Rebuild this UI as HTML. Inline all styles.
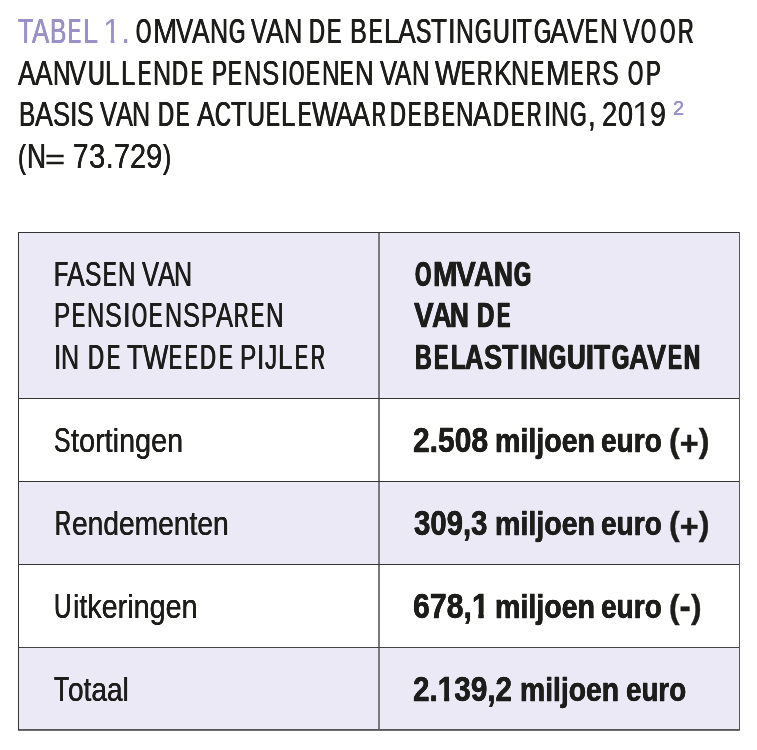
<!DOCTYPE html>
<html lang="nl"><head><meta charset="utf-8"><title>Tabel 1</title>
<style>
html,body{margin:0;padding:0;background:#fff}
body{width:757px;height:750px;position:relative;overflow:hidden;font-family:"Liberation Sans",sans-serif;color:#1d1d1b}
.l{position:absolute;white-space:nowrap;transform-origin:0 0;font-size:34.6px;line-height:34.6px;font-weight:400}
.b{font-weight:700;-webkit-text-stroke:0.4px currentColor}
.c{font-size:34.6px}
.p{color:#9b90c8}
.q,.qb,.pl{position:relative}
.q{font-size:33px;top:-0.4px}
.qb{font-size:32.3px;top:-0.6px}
.pl{font-size:32.5px;top:2.7px}
.o,.ob{display:inline-block}
.o{clip-path:polygon(0 0,100% 0,100% 74%,63.5% 74%,63.5% 100%,43% 100%,43% 74%,0 74%)}
.ob{clip-path:polygon(0 0,100% 0,100% 71%,68.5% 71%,68.5% 100%,40% 100%,40% 71%,0 71%)}
.bg{position:absolute;left:19px;width:720px;background:#ebe9f6}
.hl{position:absolute;left:18px;width:722px;height:1px;background:#333}
.vl{position:absolute;top:232px;height:498px}
#t1a0{left:18.45px;top:14.20px;transform:scaleX(0.7266);text-shadow:0.41px 0 0 currentColor,-0.41px 0 0 currentColor}
#t1a1{left:31.73px;top:14.20px;transform:scaleX(0.7483);text-shadow:0.35px 0 0 currentColor,-0.35px 0 0 currentColor}
#t1a2{left:49.64px;top:14.20px;transform:scaleX(0.7101);text-shadow:0.46px 0 0 currentColor,-0.46px 0 0 currentColor}
#t1a3{left:68.29px;top:14.20px;transform:scaleX(0.5648);text-shadow:1.00px 0 0 currentColor,-1.00px 0 0 currentColor}
#t1a4{left:82.81px;top:14.20px;transform:scaleX(0.7799);text-shadow:0.27px 0 0 currentColor,-0.27px 0 0 currentColor}
#t1b0{left:102.74px;top:14.20px;transform:scaleX(0.9285);text-shadow:none}
#t1b1{left:122.31px;top:14.20px;transform:scaleX(0.7660);text-shadow:0.30px 0 0 currentColor,-0.30px 0 0 currentColor}
#t1c0{left:136.22px;top:14.20px;transform:scaleX(0.5673);text-shadow:1.00px 0 0 currentColor,-1.00px 0 0 currentColor}
#t1c1{left:152.82px;top:14.20px;transform:scaleX(0.8485);text-shadow:0.11px 0 0 currentColor,-0.11px 0 0 currentColor}
#t1c2{left:175.98px;top:14.20px;transform:scaleX(0.7427);text-shadow:0.36px 0 0 currentColor,-0.36px 0 0 currentColor}
#t1c3{left:192.01px;top:14.20px;transform:scaleX(0.7635);text-shadow:0.31px 0 0 currentColor,-0.31px 0 0 currentColor}
#t1c4{left:210.28px;top:14.20px;transform:scaleX(0.7251);text-shadow:0.41px 0 0 currentColor,-0.41px 0 0 currentColor}
#t1c5{left:229.19px;top:14.20px;transform:scaleX(0.6079);text-shadow:0.82px 0 0 currentColor,-0.82px 0 0 currentColor}
#t1d0{left:250.73px;top:14.20px;transform:scaleX(0.7027);text-shadow:0.48px 0 0 currentColor,-0.48px 0 0 currentColor}
#t1d1{left:266.25px;top:14.20px;transform:scaleX(0.7662);text-shadow:0.30px 0 0 currentColor,-0.30px 0 0 currentColor}
#t1d2{left:284.20px;top:14.20px;transform:scaleX(0.7324);text-shadow:0.39px 0 0 currentColor,-0.39px 0 0 currentColor}
#t1e0{left:308.89px;top:14.20px;transform:scaleX(0.6343);text-shadow:0.71px 0 0 currentColor,-0.71px 0 0 currentColor}
#t1e1{left:327.38px;top:14.20px;transform:scaleX(0.6218);text-shadow:0.76px 0 0 currentColor,-0.76px 0 0 currentColor}
#t1f0{left:350.13px;top:14.20px;transform:scaleX(0.7304);text-shadow:0.40px 0 0 currentColor,-0.40px 0 0 currentColor}
#t1f1{left:369.25px;top:14.20px;transform:scaleX(0.5824);text-shadow:0.93px 0 0 currentColor,-0.93px 0 0 currentColor}
#t1f2{left:383.90px;top:14.20px;transform:scaleX(0.7722);text-shadow:0.29px 0 0 currentColor,-0.29px 0 0 currentColor}
#t1f3{left:398.03px;top:14.20px;transform:scaleX(0.7699);text-shadow:0.29px 0 0 currentColor,-0.29px 0 0 currentColor}
#t1f4{left:416.36px;top:14.20px;transform:scaleX(0.6626);text-shadow:0.61px 0 0 currentColor,-0.61px 0 0 currentColor}
#t1f5{left:430.86px;top:14.20px;transform:scaleX(0.7548);text-shadow:0.33px 0 0 currentColor,-0.33px 0 0 currentColor}
#t1f6{left:448.45px;top:14.20px;transform:scaleX(0.7966);text-shadow:0.23px 0 0 currentColor,-0.23px 0 0 currentColor}
#t1f7{left:455.74px;top:14.20px;transform:scaleX(0.7145);text-shadow:0.45px 0 0 currentColor,-0.45px 0 0 currentColor}
#t1f8{left:474.93px;top:14.20px;transform:scaleX(0.6185);text-shadow:0.77px 0 0 currentColor,-0.77px 0 0 currentColor}
#t1f9{left:493.02px;top:14.20px;transform:scaleX(0.6689);text-shadow:0.59px 0 0 currentColor,-0.59px 0 0 currentColor}
#t1f10{left:510.52px;top:14.20px;transform:scaleX(0.7516);text-shadow:0.34px 0 0 currentColor,-0.34px 0 0 currentColor}
#t1f11{left:516.53px;top:14.20px;transform:scaleX(0.7039);text-shadow:0.48px 0 0 currentColor,-0.48px 0 0 currentColor}
#t1f12{left:534.28px;top:14.20px;transform:scaleX(0.6425);text-shadow:0.68px 0 0 currentColor,-0.68px 0 0 currentColor}
#t1f13{left:550.01px;top:14.20px;transform:scaleX(0.7826);text-shadow:0.26px 0 0 currentColor,-0.26px 0 0 currentColor}
#t1f14{left:566.74px;top:14.20px;transform:scaleX(0.7510);text-shadow:0.34px 0 0 currentColor,-0.34px 0 0 currentColor}
#t1f15{left:584.63px;top:14.20px;transform:scaleX(0.5614);text-shadow:1.00px 0 0 currentColor,-1.00px 0 0 currentColor}
#t1f16{left:599.74px;top:14.20px;transform:scaleX(0.7145);text-shadow:0.45px 0 0 currentColor,-0.45px 0 0 currentColor}
#t1g0{left:623.48px;top:14.20px;transform:scaleX(0.7280);text-shadow:0.41px 0 0 currentColor,-0.41px 0 0 currentColor}
#t1g1{left:641.42px;top:14.20px;transform:scaleX(0.5609);text-shadow:1.00px 0 0 currentColor,-1.00px 0 0 currentColor}
#t1g2{left:660.03px;top:14.20px;transform:scaleX(0.5700);text-shadow:0.98px 0 0 currentColor,-0.98px 0 0 currentColor}
#t1g3{left:678.00px;top:14.20px;transform:scaleX(0.6274);text-shadow:0.74px 0 0 currentColor,-0.74px 0 0 currentColor}
#t2a0{left:18.01px;top:56.20px;transform:scaleX(0.7635);text-shadow:0.31px 0 0 currentColor,-0.31px 0 0 currentColor}
#t2a1{left:35.03px;top:56.20px;transform:scaleX(0.7584);text-shadow:0.32px 0 0 currentColor,-0.32px 0 0 currentColor}
#t2a2{left:52.56px;top:56.20px;transform:scaleX(0.7029);text-shadow:0.48px 0 0 currentColor,-0.48px 0 0 currentColor}
#t2a3{left:69.48px;top:56.20px;transform:scaleX(0.7439);text-shadow:0.36px 0 0 currentColor,-0.36px 0 0 currentColor}
#t2a4{left:87.89px;top:56.20px;transform:scaleX(0.6738);text-shadow:0.57px 0 0 currentColor,-0.57px 0 0 currentColor}
#t2a5{left:105.30px;top:56.20px;transform:scaleX(0.7437);text-shadow:0.36px 0 0 currentColor,-0.36px 0 0 currentColor}
#t2a6{left:121.30px;top:56.20px;transform:scaleX(0.7437);text-shadow:0.36px 0 0 currentColor,-0.36px 0 0 currentColor}
#t2a7{left:138.42px;top:56.20px;transform:scaleX(0.5710);text-shadow:0.98px 0 0 currentColor,-0.98px 0 0 currentColor}
#t2a8{left:153.28px;top:56.20px;transform:scaleX(0.7251);text-shadow:0.41px 0 0 currentColor,-0.41px 0 0 currentColor}
#t2a9{left:172.04px;top:56.20px;transform:scaleX(0.6382);text-shadow:0.70px 0 0 currentColor,-0.70px 0 0 currentColor}
#t2a10{left:191.12px;top:56.20px;transform:scaleX(0.5179);text-shadow:1.00px 0 0 currentColor,-1.00px 0 0 currentColor}
#t2b0{left:211.64px;top:56.20px;transform:scaleX(0.6478);text-shadow:0.66px 0 0 currentColor,-0.66px 0 0 currentColor}
#t2b1{left:228.12px;top:56.20px;transform:scaleX(0.5927);text-shadow:0.88px 0 0 currentColor,-0.88px 0 0 currentColor}
#t2b2{left:243.66px;top:56.20px;transform:scaleX(0.6906);text-shadow:0.52px 0 0 currentColor,-0.52px 0 0 currentColor}
#t2b3{left:261.51px;top:56.20px;transform:scaleX(0.7458);text-shadow:0.36px 0 0 currentColor,-0.36px 0 0 currentColor}
#t2b4{left:280.94px;top:56.20px;transform:scaleX(0.7663);text-shadow:0.30px 0 0 currentColor,-0.30px 0 0 currentColor}
#t2b5{left:288.96px;top:56.20px;transform:scaleX(0.5709);text-shadow:0.98px 0 0 currentColor,-0.98px 0 0 currentColor}
#t2b6{left:306.34px;top:56.20px;transform:scaleX(0.6030);text-shadow:0.84px 0 0 currentColor,-0.84px 0 0 currentColor}
#t2b7{left:321.56px;top:56.20px;transform:scaleX(0.7029);text-shadow:0.48px 0 0 currentColor,-0.48px 0 0 currentColor}
#t2b8{left:340.10px;top:56.20px;transform:scaleX(0.5793);text-shadow:0.94px 0 0 currentColor,-0.94px 0 0 currentColor}
#t2b9{left:354.92px;top:56.20px;transform:scaleX(0.7479);text-shadow:0.35px 0 0 currentColor,-0.35px 0 0 currentColor}
#t2c0{left:379.73px;top:56.20px;transform:scaleX(0.7405);text-shadow:0.37px 0 0 currentColor,-0.37px 0 0 currentColor}
#t2c1{left:395.03px;top:56.20px;transform:scaleX(0.7049);text-shadow:0.47px 0 0 currentColor,-0.47px 0 0 currentColor}
#t2c2{left:411.56px;top:56.20px;transform:scaleX(0.7029);text-shadow:0.48px 0 0 currentColor,-0.48px 0 0 currentColor}
#t2d0{left:434.81px;top:56.20px;transform:scaleX(0.7949);text-shadow:0.23px 0 0 currentColor,-0.23px 0 0 currentColor}
#t2d1{left:461.49px;top:56.20px;transform:scaleX(0.6087);text-shadow:0.81px 0 0 currentColor,-0.81px 0 0 currentColor}
#t2d2{left:477.16px;top:56.20px;transform:scaleX(0.6227);text-shadow:0.76px 0 0 currentColor,-0.76px 0 0 currentColor}
#t2d3{left:493.70px;top:56.20px;transform:scaleX(0.7726);text-shadow:0.29px 0 0 currentColor,-0.29px 0 0 currentColor}
#t2d4{left:511.27px;top:56.20px;transform:scaleX(0.7251);text-shadow:0.41px 0 0 currentColor,-0.41px 0 0 currentColor}
#t2d5{left:531.29px;top:56.20px;transform:scaleX(0.5574);text-shadow:1.00px 0 0 currentColor,-1.00px 0 0 currentColor}
#t2d6{left:546.36px;top:56.20px;transform:scaleX(0.8205);text-shadow:0.17px 0 0 currentColor,-0.17px 0 0 currentColor}
#t2d7{left:571.40px;top:56.20px;transform:scaleX(0.5270);text-shadow:1.00px 0 0 currentColor,-1.00px 0 0 currentColor}
#t2d8{left:586.06px;top:56.20px;transform:scaleX(0.5922);text-shadow:0.88px 0 0 currentColor,-0.88px 0 0 currentColor}
#t2d9{left:602.26px;top:56.20px;transform:scaleX(0.7239);text-shadow:0.42px 0 0 currentColor,-0.42px 0 0 currentColor}
#t2e0{left:627.69px;top:56.20px;transform:scaleX(0.5638);text-shadow:1.00px 0 0 currentColor,-1.00px 0 0 currentColor}
#t2e1{left:646.09px;top:56.20px;transform:scaleX(0.6426);text-shadow:0.68px 0 0 currentColor,-0.68px 0 0 currentColor}
#t3a0{left:18.62px;top:97.20px;transform:scaleX(0.7084);text-shadow:0.46px 0 0 currentColor,-0.46px 0 0 currentColor}
#t3a1{left:35.01px;top:97.20px;transform:scaleX(0.7826);text-shadow:0.26px 0 0 currentColor,-0.26px 0 0 currentColor}
#t3a2{left:52.62px;top:97.20px;transform:scaleX(0.7394);text-shadow:0.37px 0 0 currentColor,-0.37px 0 0 currentColor}
#t3a3{left:69.67px;top:97.20px;transform:scaleX(0.7854);text-shadow:0.25px 0 0 currentColor,-0.25px 0 0 currentColor}
#t3a4{left:76.75px;top:97.20px;transform:scaleX(0.7235);text-shadow:0.42px 0 0 currentColor,-0.42px 0 0 currentColor}
#t3b0{left:99.73px;top:97.20px;transform:scaleX(0.7372);text-shadow:0.38px 0 0 currentColor,-0.38px 0 0 currentColor}
#t3b1{left:116.03px;top:97.20px;transform:scaleX(0.7302);text-shadow:0.40px 0 0 currentColor,-0.40px 0 0 currentColor}
#t3b2{left:132.28px;top:97.20px;transform:scaleX(0.7251);text-shadow:0.41px 0 0 currentColor,-0.41px 0 0 currentColor}
#t3c0{left:157.53px;top:97.20px;transform:scaleX(0.6429);text-shadow:0.68px 0 0 currentColor,-0.68px 0 0 currentColor}
#t3c1{left:176.10px;top:97.20px;transform:scaleX(0.5793);text-shadow:0.94px 0 0 currentColor,-0.94px 0 0 currentColor}
#t3d0{left:197.02px;top:97.20px;transform:scaleX(0.7741);text-shadow:0.28px 0 0 currentColor,-0.28px 0 0 currentColor}
#t3d1{left:215.16px;top:97.20px;transform:scaleX(0.6373);text-shadow:0.70px 0 0 currentColor,-0.70px 0 0 currentColor}
#t3d2{left:230.95px;top:97.20px;transform:scaleX(0.7329);text-shadow:0.39px 0 0 currentColor,-0.39px 0 0 currentColor}
#t3d3{left:247.09px;top:97.20px;transform:scaleX(0.7260);text-shadow:0.41px 0 0 currentColor,-0.41px 0 0 currentColor}
#t3d4{left:266.00px;top:97.20px;transform:scaleX(0.5981);text-shadow:0.86px 0 0 currentColor,-0.86px 0 0 currentColor}
#t3d5{left:280.92px;top:97.20px;transform:scaleX(0.7483);text-shadow:0.35px 0 0 currentColor,-0.35px 0 0 currentColor}
#t3d6{left:297.94px;top:97.20px;transform:scaleX(0.5805);text-shadow:0.93px 0 0 currentColor,-0.93px 0 0 currentColor}
#t3d7{left:312.07px;top:97.20px;transform:scaleX(0.7938);text-shadow:0.23px 0 0 currentColor,-0.23px 0 0 currentColor}
#t3d8{left:336.02px;top:97.20px;transform:scaleX(0.7422);text-shadow:0.37px 0 0 currentColor,-0.37px 0 0 currentColor}
#t3d9{left:352.01px;top:97.20px;transform:scaleX(0.7722);text-shadow:0.29px 0 0 currentColor,-0.29px 0 0 currentColor}
#t3d10{left:371.69px;top:97.20px;transform:scaleX(0.5579);text-shadow:1.00px 0 0 currentColor,-1.00px 0 0 currentColor}
#t3d11{left:390.14px;top:97.20px;transform:scaleX(0.6338);text-shadow:0.72px 0 0 currentColor,-0.72px 0 0 currentColor}
#t3d12{left:408.38px;top:97.20px;transform:scaleX(0.5793);text-shadow:0.94px 0 0 currentColor,-0.94px 0 0 currentColor}
#t3d13{left:423.26px;top:97.20px;transform:scaleX(0.7290);text-shadow:0.40px 0 0 currentColor,-0.40px 0 0 currentColor}
#t3d14{left:441.58px;top:97.20px;transform:scaleX(0.5488);text-shadow:1.00px 0 0 currentColor,-1.00px 0 0 currentColor}
#t3d15{left:456.32px;top:97.20px;transform:scaleX(0.6998);text-shadow:0.49px 0 0 currentColor,-0.49px 0 0 currentColor}
#t3d16{left:473.01px;top:97.20px;transform:scaleX(0.7923);text-shadow:0.24px 0 0 currentColor,-0.24px 0 0 currentColor}
#t3d17{left:492.91px;top:97.20px;transform:scaleX(0.6341);text-shadow:0.71px 0 0 currentColor,-0.71px 0 0 currentColor}
#t3d18{left:511.38px;top:97.20px;transform:scaleX(0.5793);text-shadow:0.94px 0 0 currentColor,-0.94px 0 0 currentColor}
#t3d19{left:527.15px;top:97.20px;transform:scaleX(0.5811);text-shadow:0.93px 0 0 currentColor,-0.93px 0 0 currentColor}
#t3d20{left:543.94px;top:97.20px;transform:scaleX(0.7663);text-shadow:0.30px 0 0 currentColor,-0.30px 0 0 currentColor}
#t3d21{left:551.39px;top:97.20px;transform:scaleX(0.7194);text-shadow:0.43px 0 0 currentColor,-0.43px 0 0 currentColor}
#t3d22{left:569.64px;top:97.20px;transform:scaleX(0.6185);text-shadow:0.77px 0 0 currentColor,-0.77px 0 0 currentColor}
#t3d23{left:587.62px;top:97.20px;transform:scaleX(0.8028);text-shadow:0.21px 0 0 currentColor,-0.21px 0 0 currentColor}
#t3e0{left:602.21px;top:97.20px;transform:scaleX(0.7893);text-shadow:0.24px 0 0 currentColor,-0.24px 0 0 currentColor}
#t3e1{left:618.20px;top:97.20px;transform:scaleX(0.7797);text-shadow:0.27px 0 0 currentColor,-0.27px 0 0 currentColor}
#t3e2{left:632.10px;top:97.20px;transform:scaleX(0.9931);text-shadow:none}
#t3e3{left:650.15px;top:97.20px;transform:scaleX(0.8324);text-shadow:0.15px 0 0 currentColor,-0.15px 0 0 currentColor}
#t3f0{left:673.35px;top:91.20px;transform:scaleX(0.9822);font-size:20.30px;text-shadow:0.30px 0 0 currentColor,-0.30px 0 0 currentColor}
#t4a0{left:17.61px;top:139.20px;transform:scaleX(0.7238);text-shadow:0.42px 0 0 currentColor,-0.42px 0 0 currentColor}
#t4a1{left:27.28px;top:139.20px;transform:scaleX(0.7604);text-shadow:0.32px 0 0 currentColor,-0.32px 0 0 currentColor}
#t4a2{left:44.54px;top:142.90px;transform:scaleX(1.2876);font-size:26.80px;text-shadow:none;-webkit-text-stroke:0.3px currentColor}
#t4b0{left:73.09px;top:139.20px;transform:scaleX(0.8016);text-shadow:0.21px 0 0 currentColor,-0.21px 0 0 currentColor}
#t4b1{left:89.11px;top:139.20px;transform:scaleX(0.8496);text-shadow:0.11px 0 0 currentColor,-0.11px 0 0 currentColor}
#t4b2{left:105.92px;top:139.20px;transform:scaleX(0.7776);text-shadow:0.27px 0 0 currentColor,-0.27px 0 0 currentColor}
#t4b3{left:113.56px;top:139.20px;transform:scaleX(0.8306);text-shadow:0.15px 0 0 currentColor,-0.15px 0 0 currentColor}
#t4b4{left:129.64px;top:139.20px;transform:scaleX(0.8338);text-shadow:0.14px 0 0 currentColor,-0.14px 0 0 currentColor}
#t4b5{left:146.37px;top:139.20px;transform:scaleX(0.8457);text-shadow:0.12px 0 0 currentColor,-0.12px 0 0 currentColor}
#t4b6{left:163.00px;top:139.20px;transform:scaleX(0.7443);text-shadow:0.36px 0 0 currentColor,-0.36px 0 0 currentColor}
#h1a0{left:54.34px;top:257.20px;transform:scaleX(0.6708);text-shadow:0.58px 0 0 currentColor,-0.58px 0 0 currentColor}
#h1a1{left:67.28px;top:257.20px;transform:scaleX(0.7594);text-shadow:0.32px 0 0 currentColor,-0.32px 0 0 currentColor}
#h1a2{left:84.97px;top:257.20px;transform:scaleX(0.7124);text-shadow:0.45px 0 0 currentColor,-0.45px 0 0 currentColor}
#h1a3{left:103.24px;top:257.20px;transform:scaleX(0.5870);text-shadow:0.91px 0 0 currentColor,-0.91px 0 0 currentColor}
#h1a4{left:118.27px;top:257.20px;transform:scaleX(0.6963);text-shadow:0.50px 0 0 currentColor,-0.50px 0 0 currentColor}
#h1b0{left:141.74px;top:257.20px;transform:scaleX(0.7405);text-shadow:0.37px 0 0 currentColor,-0.37px 0 0 currentColor}
#h1b1{left:158.01px;top:257.20px;transform:scaleX(0.7421);text-shadow:0.37px 0 0 currentColor,-0.37px 0 0 currentColor}
#h1b2{left:174.29px;top:257.20px;transform:scaleX(0.7251);text-shadow:0.41px 0 0 currentColor,-0.41px 0 0 currentColor}
#h2a0{left:54.01px;top:298.20px;transform:scaleX(0.7027);text-shadow:0.48px 0 0 currentColor,-0.48px 0 0 currentColor}
#h2a1{left:72.30px;top:298.20px;transform:scaleX(0.5631);text-shadow:1.00px 0 0 currentColor,-1.00px 0 0 currentColor}
#h2a2{left:87.17px;top:298.20px;transform:scaleX(0.6891);text-shadow:0.52px 0 0 currentColor,-0.52px 0 0 currentColor}
#h2a3{left:104.75px;top:298.20px;transform:scaleX(0.7280);text-shadow:0.41px 0 0 currentColor,-0.41px 0 0 currentColor}
#h2a4{left:123.47px;top:298.20px;transform:scaleX(0.7966);text-shadow:0.23px 0 0 currentColor,-0.23px 0 0 currentColor}
#h2a5{left:131.73px;top:298.20px;transform:scaleX(0.5581);text-shadow:1.00px 0 0 currentColor,-1.00px 0 0 currentColor}
#h2a6{left:149.19px;top:298.20px;transform:scaleX(0.5743);text-shadow:0.96px 0 0 currentColor,-0.96px 0 0 currentColor}
#h2a7{left:164.67px;top:298.20px;transform:scaleX(0.6835);text-shadow:0.54px 0 0 currentColor,-0.54px 0 0 currentColor}
#h2a8{left:182.50px;top:298.20px;transform:scaleX(0.7341);text-shadow:0.39px 0 0 currentColor,-0.39px 0 0 currentColor}
#h2a9{left:201.02px;top:298.20px;transform:scaleX(0.6974);text-shadow:0.50px 0 0 currentColor,-0.50px 0 0 currentColor}
#h2a10{left:215.51px;top:298.20px;transform:scaleX(0.7392);text-shadow:0.37px 0 0 currentColor,-0.37px 0 0 currentColor}
#h2a11{left:234.17px;top:298.20px;transform:scaleX(0.5797);text-shadow:0.94px 0 0 currentColor,-0.94px 0 0 currentColor}
#h2a12{left:250.70px;top:298.20px;transform:scaleX(0.5670);text-shadow:1.00px 0 0 currentColor,-1.00px 0 0 currentColor}
#h2a13{left:266.15px;top:298.20px;transform:scaleX(0.7048);text-shadow:0.47px 0 0 currentColor,-0.47px 0 0 currentColor}
#h3a0{left:53.70px;top:340.20px;transform:scaleX(0.7663);text-shadow:0.30px 0 0 currentColor,-0.30px 0 0 currentColor}
#h3a1{left:61.03px;top:340.20px;transform:scaleX(0.7251);text-shadow:0.41px 0 0 currentColor,-0.41px 0 0 currentColor}
#h3b0{left:87.53px;top:340.20px;transform:scaleX(0.6429);text-shadow:0.68px 0 0 currentColor,-0.68px 0 0 currentColor}
#h3b1{left:106.70px;top:340.20px;transform:scaleX(0.5670);text-shadow:1.00px 0 0 currentColor,-1.00px 0 0 currentColor}
#h3c0{left:127.02px;top:340.20px;transform:scaleX(0.7491);text-shadow:0.35px 0 0 currentColor,-0.35px 0 0 currentColor}
#h3c1{left:142.81px;top:340.20px;transform:scaleX(0.7754);text-shadow:0.28px 0 0 currentColor,-0.28px 0 0 currentColor}
#h3c2{left:168.75px;top:340.20px;transform:scaleX(0.5570);text-shadow:1.00px 0 0 currentColor,-1.00px 0 0 currentColor}
#h3c3{left:184.87px;top:340.20px;transform:scaleX(0.5488);text-shadow:1.00px 0 0 currentColor,-1.00px 0 0 currentColor}
#h3c4{left:199.76px;top:340.20px;transform:scaleX(0.6390);text-shadow:0.70px 0 0 currentColor,-0.70px 0 0 currentColor}
#h3c5{left:218.55px;top:340.20px;transform:scaleX(0.5951);text-shadow:0.87px 0 0 currentColor,-0.87px 0 0 currentColor}
#h3d0{left:240.30px;top:340.20px;transform:scaleX(0.7089);text-shadow:0.46px 0 0 currentColor,-0.46px 0 0 currentColor}
#h3d1{left:257.04px;top:340.20px;transform:scaleX(0.7688);text-shadow:0.30px 0 0 currentColor,-0.30px 0 0 currentColor}
#h3d2{left:264.50px;top:340.20px;transform:scaleX(0.7047);text-shadow:0.47px 0 0 currentColor,-0.47px 0 0 currentColor}
#h3d3{left:277.90px;top:340.20px;transform:scaleX(0.7483);text-shadow:0.35px 0 0 currentColor,-0.35px 0 0 currentColor}
#h3d4{left:295.28px;top:340.20px;transform:scaleX(0.5618);text-shadow:1.00px 0 0 currentColor,-1.00px 0 0 currentColor}
#h3d5{left:310.67px;top:340.20px;transform:scaleX(0.5579);text-shadow:1.00px 0 0 currentColor,-1.00px 0 0 currentColor}
#g1a0{left:415.06px;top:257.20px;transform:scaleX(0.6091);text-shadow:1.00px 0 0 currentColor,-1.00px 0 0 currentColor}
#g1a1{left:432.73px;top:257.20px;transform:scaleX(0.8524);text-shadow:0.15px 0 0 currentColor,-0.15px 0 0 currentColor}
#g1a2{left:455.57px;top:257.20px;transform:scaleX(0.8589);text-shadow:0.13px 0 0 currentColor,-0.13px 0 0 currentColor}
#g1a3{left:473.74px;top:257.20px;transform:scaleX(0.7981);text-shadow:0.34px 0 0 currentColor,-0.34px 0 0 currentColor}
#g1a4{left:493.70px;top:257.20px;transform:scaleX(0.7554);text-shadow:0.50px 0 0 currentColor,-0.50px 0 0 currentColor}
#g1a5{left:513.82px;top:257.20px;transform:scaleX(0.6320);text-shadow:1.00px 0 0 currentColor,-1.00px 0 0 currentColor}
#g2a0{left:414.40px;top:298.20px;transform:scaleX(0.8542);text-shadow:0.15px 0 0 currentColor,-0.15px 0 0 currentColor}
#g2a1{left:432.07px;top:298.20px;transform:scaleX(0.7924);text-shadow:0.36px 0 0 currentColor,-0.36px 0 0 currentColor}
#g2a2{left:450.34px;top:298.20px;transform:scaleX(0.7521);text-shadow:0.52px 0 0 currentColor,-0.52px 0 0 currentColor}
#g2b0{left:477.18px;top:298.20px;transform:scaleX(0.6965);text-shadow:0.76px 0 0 currentColor,-0.76px 0 0 currentColor}
#g2b1{left:497.01px;top:298.20px;transform:scaleX(0.5781);text-shadow:1.00px 0 0 currentColor,-1.00px 0 0 currentColor}
#g3a0{left:414.56px;top:340.20px;transform:scaleX(0.6688);text-shadow:0.90px 0 0 currentColor,-0.90px 0 0 currentColor}
#g3a1{left:434.19px;top:340.20px;transform:scaleX(0.6246);text-shadow:1.00px 0 0 currentColor,-1.00px 0 0 currentColor}
#g3a2{left:450.62px;top:340.20px;transform:scaleX(0.6878);text-shadow:0.81px 0 0 currentColor,-0.81px 0 0 currentColor}
#g3a3{left:465.33px;top:340.20px;transform:scaleX(0.7390);text-shadow:0.57px 0 0 currentColor,-0.57px 0 0 currentColor}
#g3a4{left:483.84px;top:340.20px;transform:scaleX(0.7882);text-shadow:0.37px 0 0 currentColor,-0.37px 0 0 currentColor}
#g3a5{left:502.06px;top:340.20px;transform:scaleX(0.7747);text-shadow:0.43px 0 0 currentColor,-0.43px 0 0 currentColor}
#g3a6{left:519.89px;top:340.20px;transform:scaleX(0.8421);text-shadow:0.19px 0 0 currentColor,-0.19px 0 0 currentColor}
#g3a7{left:529.39px;top:340.20px;transform:scaleX(0.7531);text-shadow:0.51px 0 0 currentColor,-0.51px 0 0 currentColor}
#g3a8{left:548.62px;top:340.20px;transform:scaleX(0.6296);text-shadow:1.00px 0 0 currentColor,-1.00px 0 0 currentColor}
#g3a9{left:567.48px;top:340.20px;transform:scaleX(0.7495);text-shadow:0.53px 0 0 currentColor,-0.53px 0 0 currentColor}
#g3a10{left:585.06px;top:340.20px;transform:scaleX(0.9989);text-shadow:none}
#g3a11{left:593.94px;top:340.20px;transform:scaleX(0.7562);text-shadow:0.50px 0 0 currentColor,-0.50px 0 0 currentColor}
#g3a12{left:611.87px;top:340.20px;transform:scaleX(0.6388);text-shadow:1.00px 0 0 currentColor,-1.00px 0 0 currentColor}
#g3a13{left:628.67px;top:340.20px;transform:scaleX(0.7951);text-shadow:0.35px 0 0 currentColor,-0.35px 0 0 currentColor}
#g3a14{left:646.67px;top:340.20px;transform:scaleX(0.8310);text-shadow:0.22px 0 0 currentColor,-0.22px 0 0 currentColor}
#g3a15{left:667.67px;top:340.20px;transform:scaleX(0.6036);text-shadow:1.00px 0 0 currentColor,-1.00px 0 0 currentColor}
#g3a16{left:684.40px;top:340.20px;transform:scaleX(0.6388);text-shadow:1.00px 0 0 currentColor,-1.00px 0 0 currentColor}
#a1a0{left:54.48px;top:423.20px;transform:scaleX(0.7149);text-shadow:0.44px 0 0 currentColor,-0.44px 0 0 currentColor}
#a1a1{left:71.27px;top:423.70px;transform:scaleX(0.8673);font-size:33.22px;text-shadow:0.14px 0 0 currentColor,-0.14px 0 0 currentColor}
#b1a0{left:413.26px;top:423.20px;transform:scaleX(0.8676);text-shadow:0.10px 0 0 currentColor,-0.10px 0 0 currentColor}
#b1b0{left:494.71px;top:423.70px;transform:scaleX(0.8695);font-size:32.87px;text-shadow:0.22px 0 0 currentColor,-0.22px 0 0 currentColor}
#b1c0{left:601.13px;top:423.70px;transform:scaleX(0.8534);font-size:32.87px;text-shadow:0.27px 0 0 currentColor,-0.27px 0 0 currentColor}
#b1d0{left:668.70px;top:423.20px;transform:scaleX(0.9975);text-shadow:none}
#a2a0{left:54.69px;top:506.20px;transform:scaleX(0.6403);text-shadow:0.69px 0 0 currentColor,-0.69px 0 0 currentColor}
#a2a1{left:72.14px;top:506.70px;transform:scaleX(0.8484);font-size:33.22px;text-shadow:0.18px 0 0 currentColor,-0.18px 0 0 currentColor}
#b2a0{left:414.10px;top:506.20px;transform:scaleX(0.8487);text-shadow:0.16px 0 0 currentColor,-0.16px 0 0 currentColor}
#b2b0{left:494.71px;top:506.70px;transform:scaleX(0.8695);font-size:32.87px;text-shadow:0.22px 0 0 currentColor,-0.22px 0 0 currentColor}
#b2c0{left:601.13px;top:506.70px;transform:scaleX(0.8534);font-size:32.87px;text-shadow:0.27px 0 0 currentColor,-0.27px 0 0 currentColor}
#b2d0{left:668.70px;top:506.20px;transform:scaleX(0.9975);text-shadow:none}
#a3a0{left:54.20px;top:589.20px;transform:scaleX(0.7002);text-shadow:0.49px 0 0 currentColor,-0.49px 0 0 currentColor}
#a3a1{left:72.64px;top:589.70px;transform:scaleX(0.8646);font-size:33.22px;text-shadow:0.14px 0 0 currentColor,-0.14px 0 0 currentColor}
#b3a0{left:413.27px;top:589.20px;transform:scaleX(0.8748);text-shadow:0.08px 0 0 currentColor,-0.08px 0 0 currentColor}
#b3b0{left:494.71px;top:589.70px;transform:scaleX(0.8695);font-size:32.87px;text-shadow:0.22px 0 0 currentColor,-0.22px 0 0 currentColor}
#b3c0{left:601.13px;top:589.70px;transform:scaleX(0.8534);font-size:32.87px;text-shadow:0.27px 0 0 currentColor,-0.27px 0 0 currentColor}
#b3d0{left:669.42px;top:589.20px;transform:scaleX(0.9826);text-shadow:none}
#a4a0{left:54.28px;top:672.20px;transform:scaleX(0.7140);text-shadow:0.45px 0 0 currentColor,-0.45px 0 0 currentColor}
#a4a1{left:67.67px;top:672.70px;transform:scaleX(0.8442);font-size:33.22px;text-shadow:0.19px 0 0 currentColor,-0.19px 0 0 currentColor}
#b4a0{left:412.60px;top:672.20px;transform:scaleX(0.8582);text-shadow:0.13px 0 0 currentColor,-0.13px 0 0 currentColor}
#b4b0{left:519.79px;top:672.70px;transform:scaleX(0.8610);font-size:32.87px;text-shadow:0.24px 0 0 currentColor,-0.24px 0 0 currentColor}
#b4c0{left:625.94px;top:672.70px;transform:scaleX(0.8441);font-size:32.87px;text-shadow:0.30px 0 0 currentColor,-0.30px 0 0 currentColor}
</style></head><body>
<div class="bg" style="top:233px;height:165px"></div>
<div class="bg" style="top:482px;height:82px"></div>
<div class="bg" style="top:648px;height:81px"></div>
<div class="vl" style="left:378px;width:2px;background:#7a7a7a"></div>
<div class="hl" style="top:232px"></div>
<div class="hl" style="top:398px"></div>
<div class="hl" style="top:481px"></div>
<div class="hl" style="top:564px"></div>
<div class="hl" style="top:647px;background:#444"></div>
<div class="hl" style="top:729px;background:#585858"></div>
<div class="hl" style="top:730px;background:#6e6e6e"></div>
<div class="vl" style="left:18px;width:1px;background:#333"></div>
<div class="vl" style="left:739px;width:1px;background:#555"></div>
<div class="ttl">
<div class="ln"><span class="l p" id="t1a0">T</span><span class="l p" id="t1a1">A</span><span class="l p" id="t1a2">B</span><span class="l p" id="t1a3">E</span><span class="l p" id="t1a4">L</span> <span class="l p" id="t1b0"><span class="o">1</span></span><span class="l p" id="t1b1">.</span> <span class="l" id="t1c0">O</span><span class="l" id="t1c1">M</span><span class="l" id="t1c2">V</span><span class="l" id="t1c3">A</span><span class="l" id="t1c4">N</span><span class="l" id="t1c5">G</span> <span class="l" id="t1d0">V</span><span class="l" id="t1d1">A</span><span class="l" id="t1d2">N</span> <span class="l" id="t1e0">D</span><span class="l" id="t1e1">E</span> <span class="l" id="t1f0">B</span><span class="l" id="t1f1">E</span><span class="l" id="t1f2">L</span><span class="l" id="t1f3">A</span><span class="l" id="t1f4">S</span><span class="l" id="t1f5">T</span><span class="l" id="t1f6">I</span><span class="l" id="t1f7">N</span><span class="l" id="t1f8">G</span><span class="l" id="t1f9">U</span><span class="l" id="t1f10">I</span><span class="l" id="t1f11">T</span><span class="l" id="t1f12">G</span><span class="l" id="t1f13">A</span><span class="l" id="t1f14">V</span><span class="l" id="t1f15">E</span><span class="l" id="t1f16">N</span> <span class="l" id="t1g0">V</span><span class="l" id="t1g1">O</span><span class="l" id="t1g2">O</span><span class="l" id="t1g3">R</span></div>
<div class="ln"><span class="l" id="t2a0">A</span><span class="l" id="t2a1">A</span><span class="l" id="t2a2">N</span><span class="l" id="t2a3">V</span><span class="l" id="t2a4">U</span><span class="l" id="t2a5">L</span><span class="l" id="t2a6">L</span><span class="l" id="t2a7">E</span><span class="l" id="t2a8">N</span><span class="l" id="t2a9">D</span><span class="l" id="t2a10">E</span> <span class="l" id="t2b0">P</span><span class="l" id="t2b1">E</span><span class="l" id="t2b2">N</span><span class="l" id="t2b3">S</span><span class="l" id="t2b4">I</span><span class="l" id="t2b5">O</span><span class="l" id="t2b6">E</span><span class="l" id="t2b7">N</span><span class="l" id="t2b8">E</span><span class="l" id="t2b9">N</span> <span class="l" id="t2c0">V</span><span class="l" id="t2c1">A</span><span class="l" id="t2c2">N</span> <span class="l" id="t2d0">W</span><span class="l" id="t2d1">E</span><span class="l" id="t2d2">R</span><span class="l" id="t2d3">K</span><span class="l" id="t2d4">N</span><span class="l" id="t2d5">E</span><span class="l" id="t2d6">M</span><span class="l" id="t2d7">E</span><span class="l" id="t2d8">R</span><span class="l" id="t2d9">S</span> <span class="l" id="t2e0">O</span><span class="l" id="t2e1">P</span></div>
<div class="ln"><span class="l" id="t3a0">B</span><span class="l" id="t3a1">A</span><span class="l" id="t3a2">S</span><span class="l" id="t3a3">I</span><span class="l" id="t3a4">S</span> <span class="l" id="t3b0">V</span><span class="l" id="t3b1">A</span><span class="l" id="t3b2">N</span> <span class="l" id="t3c0">D</span><span class="l" id="t3c1">E</span> <span class="l" id="t3d0">A</span><span class="l" id="t3d1">C</span><span class="l" id="t3d2">T</span><span class="l" id="t3d3">U</span><span class="l" id="t3d4">E</span><span class="l" id="t3d5">L</span><span class="l" id="t3d6">E</span><span class="l" id="t3d7">W</span><span class="l" id="t3d8">A</span><span class="l" id="t3d9">A</span><span class="l" id="t3d10">R</span><span class="l" id="t3d11">D</span><span class="l" id="t3d12">E</span><span class="l" id="t3d13">B</span><span class="l" id="t3d14">E</span><span class="l" id="t3d15">N</span><span class="l" id="t3d16">A</span><span class="l" id="t3d17">D</span><span class="l" id="t3d18">E</span><span class="l" id="t3d19">R</span><span class="l" id="t3d20">I</span><span class="l" id="t3d21">N</span><span class="l" id="t3d22">G</span><span class="l" id="t3d23">,</span> <span class="l" id="t3e0">2</span><span class="l" id="t3e1">0</span><span class="l" id="t3e2"><span class="o">1</span></span><span class="l" id="t3e3">9</span> <span class="l p" id="t3f0">2</span></div>
<div class="ln"><span class="l" id="t4a0"><span class="q">(</span></span><span class="l" id="t4a1">N</span><span class="l" id="t4a2">=</span> <span class="l" id="t4b0">7</span><span class="l" id="t4b1">3</span><span class="l" id="t4b2">.</span><span class="l" id="t4b3">7</span><span class="l" id="t4b4">2</span><span class="l" id="t4b5">9</span><span class="l" id="t4b6"><span class="q">)</span></span></div>
</div>
<div class="tbl">
<div class="th">
<div class="ln"><span class="l" id="h1a0">F</span><span class="l" id="h1a1">A</span><span class="l" id="h1a2">S</span><span class="l" id="h1a3">E</span><span class="l" id="h1a4">N</span> <span class="l" id="h1b0">V</span><span class="l" id="h1b1">A</span><span class="l" id="h1b2">N</span></div>
<div class="ln"><span class="l" id="h2a0">P</span><span class="l" id="h2a1">E</span><span class="l" id="h2a2">N</span><span class="l" id="h2a3">S</span><span class="l" id="h2a4">I</span><span class="l" id="h2a5">O</span><span class="l" id="h2a6">E</span><span class="l" id="h2a7">N</span><span class="l" id="h2a8">S</span><span class="l" id="h2a9">P</span><span class="l" id="h2a10">A</span><span class="l" id="h2a11">R</span><span class="l" id="h2a12">E</span><span class="l" id="h2a13">N</span></div>
<div class="ln"><span class="l" id="h3a0">I</span><span class="l" id="h3a1">N</span> <span class="l" id="h3b0">D</span><span class="l" id="h3b1">E</span> <span class="l" id="h3c0">T</span><span class="l" id="h3c1">W</span><span class="l" id="h3c2">E</span><span class="l" id="h3c3">E</span><span class="l" id="h3c4">D</span><span class="l" id="h3c5">E</span> <span class="l" id="h3d0">P</span><span class="l" id="h3d1">I</span><span class="l" id="h3d2">J</span><span class="l" id="h3d3">L</span><span class="l" id="h3d4">E</span><span class="l" id="h3d5">R</span></div>
</div>
<div class="th">
<div class="ln"><span class="l b" id="g1a0">O</span><span class="l b" id="g1a1">M</span><span class="l b" id="g1a2">V</span><span class="l b" id="g1a3">A</span><span class="l b" id="g1a4">N</span><span class="l b" id="g1a5">G</span></div>
<div class="ln"><span class="l b" id="g2a0">V</span><span class="l b" id="g2a1">A</span><span class="l b" id="g2a2">N</span> <span class="l b" id="g2b0">D</span><span class="l b" id="g2b1">E</span></div>
<div class="ln"><span class="l b" id="g3a0">B</span><span class="l b" id="g3a1">E</span><span class="l b" id="g3a2">L</span><span class="l b" id="g3a3">A</span><span class="l b" id="g3a4">S</span><span class="l b" id="g3a5">T</span><span class="l b" id="g3a6">I</span><span class="l b" id="g3a7">N</span><span class="l b" id="g3a8">G</span><span class="l b" id="g3a9">U</span><span class="l b" id="g3a10">I</span><span class="l b" id="g3a11">T</span><span class="l b" id="g3a12">G</span><span class="l b" id="g3a13">A</span><span class="l b" id="g3a14">V</span><span class="l b" id="g3a15">E</span><span class="l b" id="g3a16">N</span></div>
</div>
<div class="tr">
<div class="ln"><span class="l" id="a1a0">S</span><span class="l" id="a1a1">tortingen</span></div>
<div class="ln"><span class="l b" id="b1a0">2.508</span> <span class="l b" id="b1b0">miljoen</span> <span class="l b" id="b1c0">euro</span> <span class="l b" id="b1d0"><span class="qb">(</span><span class="pl">+</span><span class="qb">)</span></span></div>
</div>
<div class="tr">
<div class="ln"><span class="l" id="a2a0">R</span><span class="l" id="a2a1">endementen</span></div>
<div class="ln"><span class="l b" id="b2a0">309,3</span> <span class="l b" id="b2b0">miljoen</span> <span class="l b" id="b2c0">euro</span> <span class="l b" id="b2d0"><span class="qb">(</span><span class="pl">+</span><span class="qb">)</span></span></div>
</div>
<div class="tr">
<div class="ln"><span class="l" id="a3a0">U</span><span class="l" id="a3a1">itkeringen</span></div>
<div class="ln"><span class="l b" id="b3a0">678,<span class="ob">1</span></span> <span class="l b" id="b3b0">miljoen</span> <span class="l b" id="b3c0">euro</span> <span class="l b" id="b3d0"><span class="qb">(</span>-<span class="qb">)</span></span></div>
</div>
<div class="tr">
<div class="ln"><span class="l" id="a4a0">T</span><span class="l" id="a4a1">otaal</span></div>
<div class="ln"><span class="l b" id="b4a0">2.<span class="ob">1</span>39,2</span> <span class="l b" id="b4b0">miljoen</span> <span class="l b" id="b4c0">euro</span></div>
</div>
</div>
</body></html>
